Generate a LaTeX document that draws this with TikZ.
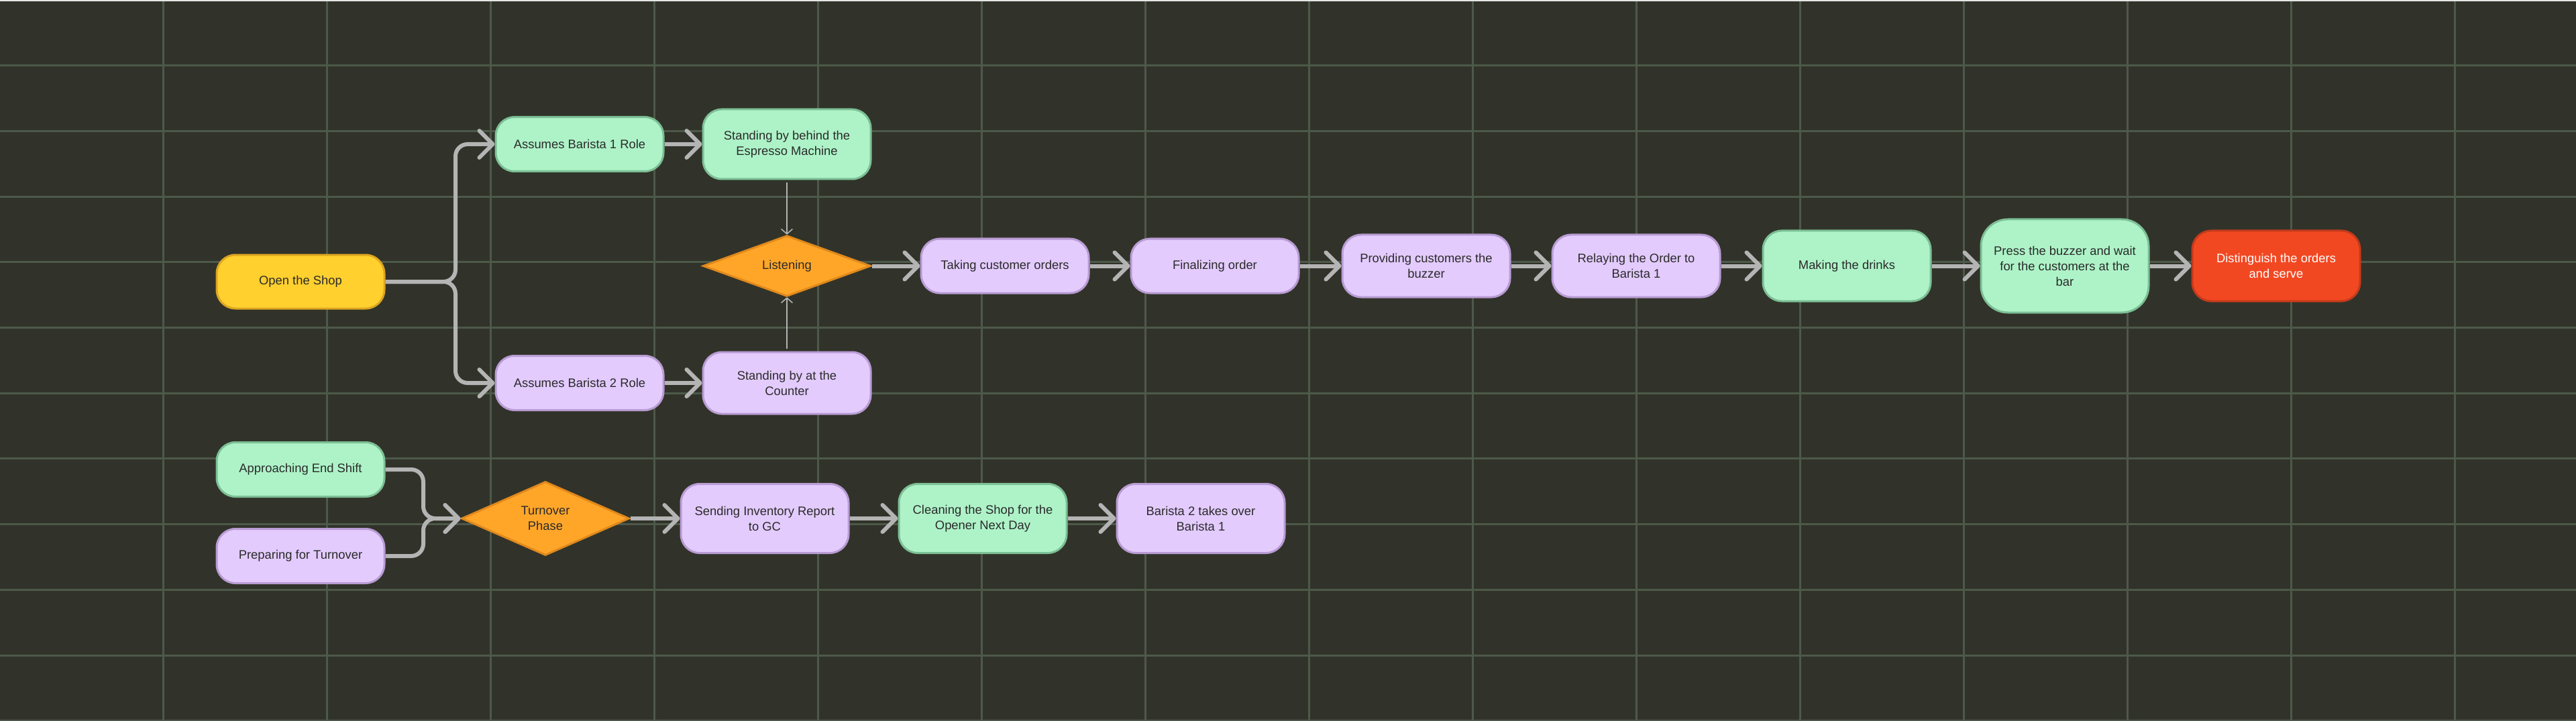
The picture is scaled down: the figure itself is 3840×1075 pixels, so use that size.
\documentclass[tikz,border=0pt]{standalone}
\usepackage{fontspec}
\setmainfont{Liberation Sans}
\usetikzlibrary{arrows.meta,shapes.geometric}
\definecolor{bg}{HTML}{31332A}
\definecolor{gridc}{HTML}{4D5949}
\definecolor{linec}{HTML}{B4B4B4}
\definecolor{txt}{HTML}{2A2A2A}
\definecolor{gfill}{HTML}{AEF3C8}\definecolor{gdraw}{HTML}{7CBF94}
\definecolor{pfill}{HTML}{E3CBFD}\definecolor{pdraw}{HTML}{B89BD3}
\definecolor{yfill}{HTML}{FFD02E}\definecolor{ydraw}{HTML}{DDA620}
\definecolor{ofill}{HTML}{FFA629}\definecolor{odraw}{HTML}{E0891C}
\definecolor{rfill}{HTML}{F24822}\definecolor{rdraw}{HTML}{C53A1B}
\newcommand{\nodefnt}{\fontsize{9.2}{11.5}\selectfont}
\tikzset{
  box/.style={rectangle, rounded corners=14pt, line width=1.5pt, minimum width=125pt,
    align=center, font=\nodefnt, text=txt, inner sep=2pt},
  gbox/.style={box, fill=gfill, draw=gdraw},
  pbox/.style={box, fill=pfill, draw=pdraw},
  ybox/.style={box, fill=yfill, draw=ydraw},
  rbox/.style={box, fill=rfill, draw=rdraw, text=white},
  dmd/.style={diamond, fill=ofill, draw=odraw, line width=1.5pt, inner sep=0pt,
    align=center, font=\nodefnt, text=txt, minimum width=125pt},
  conn/.style={draw=linec, line width=3pt, rounded corners=9pt,
    -{Straight Barb[round, length=10pt, width=20pt]}},
  thin/.style={draw=linec, line width=0.8pt,
    -{Straight Barb[round, length=3.5pt, width=8pt]}},
}
\begin{document}
\begin{tikzpicture}[x=0.5pt, y=-0.5pt]
\fill[bg] (0,0) rectangle (3840,1075);
\useasboundingbox (0,0) rectangle (3840,1075);
% grid
\foreach \k in {0,...,14} {
  \draw[gridc, line width=1.5pt] ({243.5+244*\k},0) -- ({243.5+244*\k},1075);
}
\foreach \k in {1,...,11} {
  \draw[gridc, line width=1.5pt] (0,{97.7*\k}) -- (3840,{97.7*\k});
}
\draw[white!80!gray, line width=1pt] (0,1) -- (3840,1);

% top section
\node[ybox, minimum height=40pt] (open) at (448,420) {Open the Shop};
\node[gbox, minimum height=40.5pt] (b1) at (864,215) {Assumes Barista 1 Role};
\node[gbox, minimum height=52pt] (esp) at (1173,215) {Standing by behind the\\Espresso Machine};
\node[dmd, minimum height=40.5pt] (listen) at (1173,396.5) {Listening};
\node[pbox, minimum height=40.5pt] (b2) at (864,571) {Assumes Barista 2 Role};
\node[pbox, minimum height=46pt] (counter) at (1173,571) {Standing by at the\\Counter};
\node[pbox, minimum height=40.5pt] (take) at (1498,396.5) {Taking customer orders};
\node[pbox, minimum height=40.5pt] (final) at (1811,396.5) {Finalizing order};
\node[pbox, minimum height=46.5pt] (provide) at (2126,396.5) {Providing customers the\\buzzer};
\node[pbox, minimum height=46.5pt] (relay) at (2439,396.5) {Relaying the Order to\\Barista 1};
\node[gbox, minimum height=52.5pt] (make) at (2753,396.5) {Making the drinks};
\node[gbox, minimum height=69.5pt, rounded corners=20pt] (press) at (3078,396.5) {Press the buzzer and wait\\for the customers at the\\bar};
\node[rbox, minimum height=52.5pt] (dist) at (3393,396.5) {Distinguish the orders\\and serve};

% bottom section
\node[gbox, minimum height=40.5pt] (approach) at (448,700) {Approaching End Shift};
\node[pbox, minimum height=40.5pt] (prep) at (448,829) {Preparing for Turnover};
\node[dmd, minimum height=55pt] (turn) at (813,773) {Turnover\\Phase};
\node[pbox, minimum height=51.5pt] (send) at (1140,773) {Sending Inventory Report\\to GC};
\node[gbox, minimum height=51.5pt] (clean) at (1465,773) {Cleaning the Shop for the\\Opener Next Day};
\node[pbox, minimum height=51.5pt] (takeover) at (1790,773) {Barista 2 takes over\\Barista 1};

% junctions
\coordinate (ja) at (679,420);
\coordinate (jb) at (631,700);
\coordinate (jc) at (631,829);

% connectors
\draw[conn] (open.east) -- (ja) |- (b1.west);
\draw[conn] (open.east) -- (ja) |- (b2.west);
\draw[conn] (b1.east) -- (esp.west);
\draw[conn] (b2.east) -- (counter.west);
\draw[thin, shorten <=2pt] (esp.south) -- (listen.north);
\draw[thin, shorten <=2pt] (counter.north) -- (listen.south);
\draw[conn] (listen.east) -- (take.west);
\draw[conn] (take.east) -- (final.west);
\draw[conn] (final.east) -- (provide.west);
\draw[conn] (provide.east) -- (relay.west);
\draw[conn] (relay.east) -- (make.west);
\draw[conn] (make.east) -- (press.west);
\draw[conn] (press.east) -- (dist.west);

\draw[conn] (approach.east) -- (jb) |- (turn.west);
\draw[conn] (prep.east) -- (jc) |- (turn.west);
\draw[conn] (turn.east) -- (send.west);
\draw[conn] (send.east) -- (clean.west);
\draw[conn] (clean.east) -- (takeover.west);
\end{tikzpicture}
\end{document}
